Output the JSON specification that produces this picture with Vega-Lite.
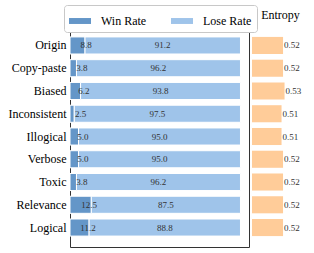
{
  "$schema": "https://vega.github.io/schema/vega-lite/v6.json",
  "padding": {"left": 7, "top": 4, "right": 3, "bottom": 5},
  "spacing": 2,
  "config": {
    "font": "Liberation Serif",
    "view": {"stroke": "#333", "strokeWidth": 1}
  },
  "datasets": {
    "rates": [
      {"metric": "Origin", "type": "Win Rate", "value": 8.8},
      {"metric": "Origin", "type": "Lose Rate", "value": 91.2},
      {"metric": "Copy-paste", "type": "Win Rate", "value": 3.8},
      {"metric": "Copy-paste", "type": "Lose Rate", "value": 96.2},
      {"metric": "Biased", "type": "Win Rate", "value": 6.2},
      {"metric": "Biased", "type": "Lose Rate", "value": 93.8},
      {"metric": "Inconsistent", "type": "Win Rate", "value": 2.5},
      {"metric": "Inconsistent", "type": "Lose Rate", "value": 97.5},
      {"metric": "Illogical", "type": "Win Rate", "value": 5.0},
      {"metric": "Illogical", "type": "Lose Rate", "value": 95.0},
      {"metric": "Verbose", "type": "Win Rate", "value": 5.0},
      {"metric": "Verbose", "type": "Lose Rate", "value": 95.0},
      {"metric": "Toxic", "type": "Win Rate", "value": 3.8},
      {"metric": "Toxic", "type": "Lose Rate", "value": 96.2},
      {"metric": "Relevance", "type": "Win Rate", "value": 12.5},
      {"metric": "Relevance", "type": "Lose Rate", "value": 87.5},
      {"metric": "Logical", "type": "Win Rate", "value": 11.2},
      {"metric": "Logical", "type": "Lose Rate", "value": 88.8}
    ],
    "entropy": [
      {"metric": "Origin", "entropy": 0.52},
      {"metric": "Copy-paste", "entropy": 0.52},
      {"metric": "Biased", "entropy": 0.53},
      {"metric": "Inconsistent", "entropy": 0.51},
      {"metric": "Illogical", "entropy": 0.51},
      {"metric": "Verbose", "entropy": 0.52},
      {"metric": "Toxic", "entropy": 0.52},
      {"metric": "Relevance", "entropy": 0.52},
      {"metric": "Logical", "entropy": 0.52}
    ]
  },
  "resolve": {"scale": {"x": "independent", "y": "shared"}},
  "hconcat": [
    {
      "width": 179,
      "height": 221,
      "data": {"name": "rates"},
      "transform": [
        {"stack": "value", "groupby": ["metric"], "sort": [{"field": "type", "order": "descending"}], "as": ["v0", "v1"]},
        {"calculate": "datum.type === 'Win Rate' ? datum.v1 / 2 + 5 : (datum.v0 + datum.v1) / 2", "as": "lx"}
      ],
      "layer": [
        {
          "mark": {"type": "bar", "stroke": "white", "strokeWidth": 1},
          "encoding": {
            "y": {"field": "metric", "type": "nominal", "sort": null,
                  "scale": {"paddingInner": 0.25, "paddingOuter": 0.48},
                  "axis": {"title": null, "ticks": false, "domain": false, "labelFontSize": 12, "labelPadding": 4, "labelColor": "#000"}},
            "x": {"field": "v0", "type": "quantitative", "scale": {"domain": [0, 105], "nice": false}, "axis": null},
            "x2": {"field": "v1"},
            "color": {"field": "type", "type": "nominal",
                      "scale": {"domain": ["Win Rate", "Lose Rate"], "range": ["#6496c8", "#9fc4ea"]},
                      "legend": {"orient": "none", "legendX": -6, "legendY": -21, "direction": "horizontal", "columns": 2,
                                 "title": null, "strokeColor": "#c8c8c8", "fillColor": "white", "cornerRadius": 3, "padding": 5,
                                 "symbolType": "M-1,-0.27H1V0.27H-1Z", "symbolSize": 484, "symbolStrokeWidth": 0,
                                 "labelFontSize": 12, "labelOffset": 10, "columnPadding": 24, "labelColor": "#000"}}
          }
        },
        {
          "mark": {"type": "text", "fontSize": 9, "color": "#333", "baseline": "middle"},
          "encoding": {
            "y": {"field": "metric", "type": "nominal", "sort": null},
            "x": {"field": "lx", "type": "quantitative"},
            "text": {"field": "value", "format": ".1f"}
          }
        }
      ]
    },
    {
      "width": 57,
      "height": 221,
      "view": {"stroke": null},
      "data": {"name": "entropy"},
      "title": {"text": "Entropy", "fontSize": 12, "fontWeight": "normal", "color": "#000", "offset": 4},
      "layer": [
        {
          "mark": {"type": "bar", "color": "#ffcc99"},
          "encoding": {
            "y": {"field": "metric", "type": "nominal", "sort": null,
                  "scale": {"paddingInner": 0.25, "paddingOuter": 0.48}, "axis": null},
            "x": {"field": "entropy", "type": "quantitative", "scale": {"domain": [0.313, 0.693], "zero": false, "nice": false}, "axis": null},
            "x2": {"datum": 0.313}
          }
        },
        {
          "mark": {"type": "text", "fontSize": 9, "color": "#333", "align": "left", "dx": 1, "baseline": "middle"},
          "encoding": {
            "y": {"field": "metric", "type": "nominal", "sort": null},
            "x": {"field": "entropy", "type": "quantitative"},
            "text": {"field": "entropy", "format": ".2f"}
          }
        }
      ]
    }
  ]
}
